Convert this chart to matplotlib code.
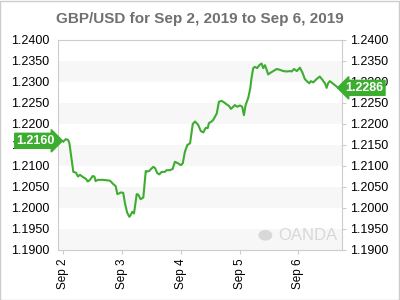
import matplotlib
matplotlib.use("Agg")
import matplotlib.pyplot as plt
from matplotlib.patches import Rectangle, Circle

plt.rcParams['font.family'] = ['Liberation Sans', 'DejaVu Sans']

# GBP/USD, hours since Sep 2 00:00 and price
hours = [0, 1.0, 2.0, 2.5, 4.1, 5.2, 6.0, 6.8, 8.2, 9.3, 10.0, 10.9, 12.0, 12.7,
         13.2, 14.1, 16.3, 19.1, 20.4, 21.4, 22.1, 22.9, 23.6, 24.5, 25.2, 26.1,
         27.0, 27.5, 28.2, 28.9, 30.0, 30.6, 31.6, 32.7, 33.7, 34.3, 35.1, 35.7,
         36.8, 37.5, 38.4, 39.2, 40.2, 41.5, 42.2, 43.6, 44.7, 45.6, 47.0, 48.0,
         48.8, 49.7, 50.7, 51.8, 52.9, 53.8, 55.1, 56.2, 57.2, 58.2, 59.0, 59.5,
         60.6, 61.3, 62.7, 63.6, 64.7, 65.8, 66.7, 67.7, 68.5, 69.4, 70.1, 71.1,
         72.2, 73.1, 73.8, 74.5, 75.6, 76.4, 76.9, 77.6, 78.3, 79.2, 80.1, 81.0,
         81.7, 82.4, 83.1, 83.7, 84.4, 85.8, 87.2, 88.5, 89.9, 91.3, 92.6, 93.3,
         94.3, 95.4, 96.7, 97.8, 98.7, 99.7, 100.5, 101.2, 102.1, 103.5, 104.8,
         105.9, 106.9, 107.6, 108.2, 108.9, 110.0, 110.9, 112.3]
price = [1.2158, 1.2164, 1.2162, 1.2154, 1.2086, 1.2084, 1.2075, 1.2079, 1.2073,
         1.2069, 1.2063, 1.2067, 1.2076, 1.2075, 1.2064, 1.2067, 1.2067, 1.2065,
         1.2057, 1.2052, 1.2033, 1.2035, 1.2037, 1.2036, 1.2011, 1.1989, 1.1979,
         1.1983, 1.1991, 1.1987, 1.2033, 1.2032, 1.2021, 1.2025, 1.2088, 1.2087,
         1.2088, 1.2092, 1.2098, 1.2095, 1.2083, 1.2080, 1.2086, 1.2086, 1.2090,
         1.2090, 1.2093, 1.2110, 1.2106, 1.2102, 1.2106, 1.2134, 1.2150, 1.2154,
         1.2200, 1.2206, 1.2198, 1.2183, 1.2180, 1.2191, 1.2190, 1.2202, 1.2206,
         1.2210, 1.2225, 1.2253, 1.2255, 1.2251, 1.2247, 1.2243, 1.2236, 1.2241,
         1.2245, 1.2241, 1.2244, 1.2241, 1.2221, 1.2245, 1.2263, 1.2285, 1.2309,
         1.2333, 1.2336, 1.2333, 1.2340, 1.2344, 1.2333, 1.2340, 1.2329, 1.2318,
         1.2321, 1.2326, 1.2331, 1.2329, 1.2326, 1.2325, 1.2326, 1.2325, 1.2331,
         1.2326, 1.2334, 1.2321, 1.2307, 1.2301, 1.2297, 1.2302, 1.2299, 1.2307,
         1.2313, 1.2305, 1.2297, 1.2286, 1.2297, 1.2302, 1.2297, 1.2293, 1.2286]

day_labels = ["Sep 2", "Sep 3", "Sep 4", "Sep 5", "Sep 6"]
y_ticks = [1.1900, 1.1950, 1.2000, 1.2050, 1.2100, 1.2150, 1.2200,
           1.2250, 1.2300, 1.2350, 1.2400]
open_price = 1.2160
last_price = 1.2286

green = "#3cad2f"
days = [h / 24 for h in hours]

fig = plt.figure(figsize=(4, 3), dpi=100)
ax = fig.add_axes([0.145, 0.1667, 0.71, 0.70])

# light bands every other 0.005
for i in range(0, len(y_ticks) - 1, 2):
    ax.axhspan(y_ticks[i], y_ticks[i + 1], color="#f7f7f7", lw=0, zorder=0)

ax.plot(days, price, color=green, lw=1.5, zorder=3)

ax.set_xlim(-0.09, 4.745)
ax.set_ylim(y_ticks[0], y_ticks[-1])
ax.set_xticks(range(len(day_labels)))
ax.set_xticklabels(day_labels, rotation=90, fontsize=8.5)
ax.set_yticks(y_ticks)
ax.set_yticklabels(["%.4f" % t for t in y_ticks], fontsize=9)
ax.tick_params(axis="y", which="both", left=False, right=True,
               labelleft=True, labelright=True, length=3, color="#cccccc",
               pad=3)
ax.tick_params(axis="x", length=3, color="#cccccc", pad=3)
for s in ax.spines.values():
    s.set_color("#cccccc")

ax.set_title("GBP/USD for Sep 2, 2019 to Sep 6, 2019", fontsize=11,
             fontweight="bold", color="#707070", pad=12)

# price flags
ax.text(-0.012, open_price, "%.4f" % open_price, transform=ax.get_yaxis_transform(),
        ha="right", va="center", color="white", fontsize=9, fontweight="bold",
        zorder=5, clip_on=False,
        bbox=dict(boxstyle="rarrow,pad=0.12", fc=green, ec=green))
ax.text(1.012, last_price, "%.4f" % last_price, transform=ax.get_yaxis_transform(),
        ha="left", va="center", color="white", fontsize=9, fontweight="bold",
        zorder=5, clip_on=False,
        bbox=dict(boxstyle="larrow,pad=0.12", fc=green, ec=green))

# watermark
ax.text(0.985, 0.07, "OANDA", transform=ax.transAxes, ha="right", va="center",
        fontsize=12, color="#d8d8d8", zorder=1)
ax.add_patch(Circle((0.73, 0.07), 0.022, transform=ax.transAxes,
                    color="#d8d8d8", zorder=1))

fig.patches.append(Rectangle((0.001, 0.001), 0.997, 0.996, transform=fig.transFigure,
                             fill=False, ec="#cccccc", lw=1))

fig.savefig("out.png", dpi=100)
